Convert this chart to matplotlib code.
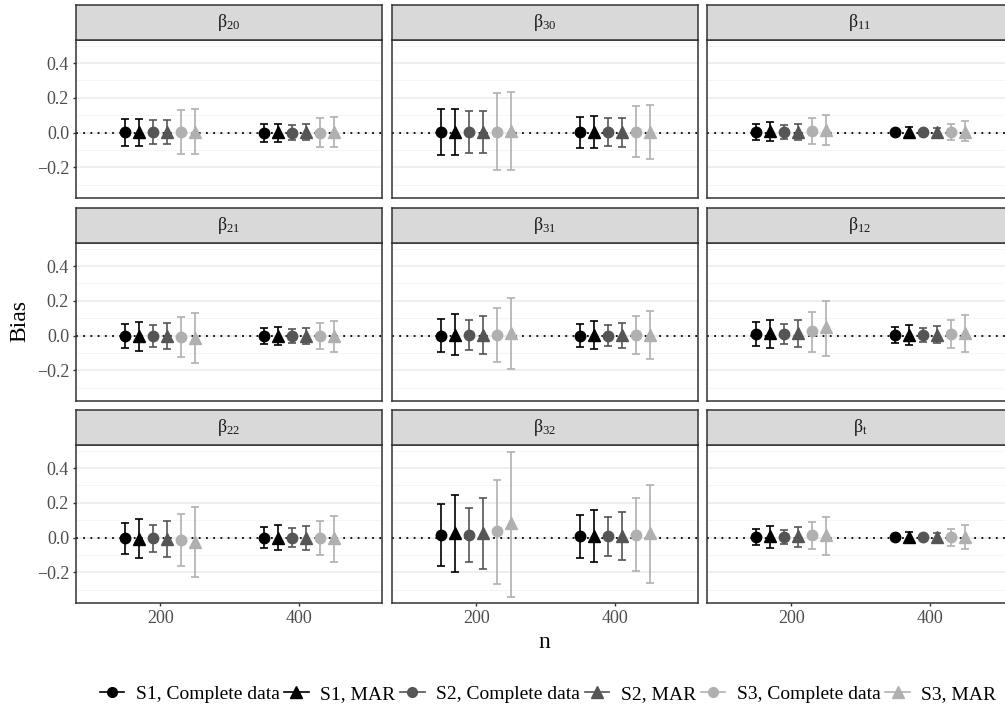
import numpy as np
import matplotlib
matplotlib.use('Agg')
import matplotlib.pyplot as plt
from matplotlib.lines import Line2D

plt.rcParams['font.family'] = ['Liberation Serif', 'DejaVu Serif']
plt.rcParams['mathtext.fontset'] = 'custom'
plt.rcParams['mathtext.rm'] = 'Liberation Serif'
plt.rcParams['mathtext.it'] = 'Liberation Serif'
plt.rcParams['mathtext.default'] = 'regular'

################## data #################
n_values = [200, 400]
series = ['S1, Complete data', 'S1, MAR', 'S2, Complete data',
          'S2, MAR', 'S3, Complete data', 'S3, MAR']
panel_labels = [r'$\beta_{20}$', r'$\beta_{30}$', r'$\beta_{11}$',
                r'$\beta_{21}$', r'$\beta_{31}$', r'$\beta_{12}$',
                r'$\beta_{22}$', r'$\beta_{32}$', r'$\beta_{t}$']

# each entry: [values at n=200, values at n=400], one value per series
b20_est = [[0.002, 0.004, 0.002, 0.004, 0.003, 0.006], [0.0, 0.001, 0.0, 0.001, 0.0, 0.002]]
b20_lo = [[-0.075, -0.075, -0.068, -0.068, -0.126, -0.126], [-0.052, -0.052, -0.044, -0.044, -0.083, -0.083]]
b20_hi = [[0.079, 0.079, 0.070, 0.072, 0.131, 0.135], [0.052, 0.052, 0.046, 0.048, 0.085, 0.087]]

b30_est = [[0.003, 0.005, 0.003, 0.005, 0.005, 0.010], [0.002, 0.002, 0.002, 0.002, 0.004, 0.005]]
b30_lo = [[-0.129, -0.128, -0.116, -0.116, -0.216, -0.216], [-0.087, -0.089, -0.077, -0.081, -0.143, -0.151]]
b30_hi = [[0.137, 0.137, 0.122, 0.126, 0.226, 0.236], [0.091, 0.093, 0.081, 0.085, 0.151, 0.160]]

b11_est = [[0.004, 0.008, 0.003, 0.006, 0.009, 0.014], [0.001, 0.002, 0.001, 0.002, 0.003, 0.006]]
b11_lo = [[-0.041, -0.046, -0.037, -0.041, -0.064, -0.073], [-0.012, -0.025, -0.012, -0.022, -0.043, -0.048]]
b11_hi = [[0.048, 0.062, 0.043, 0.052, 0.081, 0.100], [0.014, 0.030, 0.014, 0.027, 0.048, 0.064]]

b21_est = [[-0.002, -0.004, -0.003, -0.004, -0.006, -0.012], [-0.001, -0.001, -0.002, -0.001, -0.002, -0.004]]
b21_lo = [[-0.073, -0.091, -0.068, -0.079, -0.124, -0.157], [-0.046, -0.056, -0.043, -0.048, -0.077, -0.095]]
b21_hi = [[0.066, 0.077, 0.058, 0.070, 0.108, 0.128], [0.044, 0.052, 0.039, 0.046, 0.073, 0.085]]

b31_est = [[0.0, 0.006, 0.002, 0.004, 0.003, 0.012], [0.0, 0.002, 0.0, 0.001, 0.001, 0.003]]
b31_lo = [[-0.093, -0.114, -0.081, -0.104, -0.153, -0.193], [-0.064, -0.077, -0.058, -0.070, -0.108, -0.133]]
b31_hi = [[0.095, 0.126, 0.087, 0.110, 0.157, 0.214], [0.066, 0.081, 0.058, 0.071, 0.110, 0.139]]

b12_est = [[0.008, 0.014, 0.008, 0.013, 0.027, 0.050], [0.003, 0.004, 0.003, 0.004, 0.009, 0.016]]
b12_lo = [[-0.058, -0.073, -0.050, -0.064, -0.095, -0.118], [-0.043, -0.052, -0.037, -0.044, -0.070, -0.093]]
b12_hi = [[0.079, 0.091, 0.068, 0.089, 0.137, 0.197], [0.052, 0.058, 0.046, 0.054, 0.087, 0.118]]

b22_est = [[-0.004, -0.006, -0.005, -0.008, -0.012, -0.023], [-0.001, -0.001, -0.001, -0.002, -0.003, -0.005]]
b22_lo = [[-0.097, -0.116, -0.081, -0.110, -0.162, -0.228], [-0.062, -0.073, -0.054, -0.070, -0.100, -0.139]]
b22_hi = [[0.081, 0.104, 0.073, 0.093, 0.133, 0.176], [0.060, 0.073, 0.054, 0.068, 0.097, 0.126]]

b32_est = [[0.017, 0.027, 0.015, 0.025, 0.035, 0.081], [0.008, 0.010, 0.007, 0.009, 0.017, 0.027]]
b32_lo = [[-0.162, -0.197, -0.143, -0.180, -0.267, -0.344], [-0.116, -0.139, -0.104, -0.131, -0.191, -0.261]]
b32_hi = [[0.191, 0.243, 0.172, 0.228, 0.334, 0.491], [0.131, 0.158, 0.120, 0.147, 0.226, 0.302]]

bt_est = [[0.005, 0.008, 0.004, 0.007, 0.012, 0.015], [0.001, 0.002, 0.001, 0.002, 0.004, 0.006]]
bt_lo = [[-0.043, -0.058, -0.039, -0.052, -0.066, -0.100], [-0.012, -0.025, -0.012, -0.022, -0.050, -0.066]]
bt_hi = [[0.050, 0.066, 0.046, 0.060, 0.089, 0.118], [0.014, 0.030, 0.014, 0.027, 0.052, 0.075]]

panel_data = [(b20_est, b20_lo, b20_hi), (b30_est, b30_lo, b30_hi), (b11_est, b11_lo, b11_hi),
              (b21_est, b21_lo, b21_hi), (b31_est, b31_lo, b31_hi), (b12_est, b12_lo, b12_hi),
              (b22_est, b22_lo, b22_hi), (b32_est, b32_lo, b32_hi), (bt_est, bt_lo, bt_hi)]

################## style #################
colors = ['#000000', '#000000', '#555555', '#555555', '#b0b0b0', '#b0b0b0']
markers = ['o', '^', 'o', '^', 'o', '^']
msizes = [7.5, 9, 7.5, 9, 7.5, 9]
dodge = [-50, -30, -10, 10, 30, 50]

W, H = 1005, 710
fig = plt.figure(figsize=(W / 100, H / 100), dpi=100)

def add_ax(left, top, w, h):
    return fig.add_axes([left / W, 1 - (top + h) / H, w / W, h / H])

col_left = [76, 392, 707]
row_top = [40, 243, 445]
pw, ph, sh = 306, 158, 35

for k in range(9):
    r, c = divmod(k, 3)
    ax = add_ax(col_left[c], row_top[r], pw, ph)
    est, lo, hi = panel_data[k]
    for j, n in enumerate(n_values):
        for s in range(6):
            x = n + dodge[s]
            ax.errorbar(x, est[j][s],
                        yerr=[[est[j][s] - lo[j][s]], [hi[j][s] - est[j][s]]],
                        fmt=markers[s], color=colors[s], ms=msizes[s],
                        elinewidth=1.2, capsize=2.6, capthick=1.2, zorder=3)
    ax.axhline(0, color='black', ls=(0, (1, 3)), lw=1.3, zorder=2)
    ax.set_xlim(79, 519)
    ax.set_ylim(-0.377, 0.533)
    ax.set_xticks([200, 400])
    ax.set_yticks([-0.2, 0.0, 0.2, 0.4])
    ax.set_yticks([-0.3, -0.1, 0.1, 0.3, 0.5], minor=True)
    ax.yaxis.grid(True, which='major', color='#ebebeb', lw=1.1)
    ax.yaxis.grid(True, which='minor', color='#f4f4f4', lw=0.6)
    ax.set_axisbelow(True)
    ax.tick_params(which='minor', left=False)
    ax.tick_params(which='major', length=2.5, width=1.0, color='#333333',
                   labelcolor='#4d4d4d', labelsize=13, pad=2.5)
    if c == 0:
        ax.set_yticklabels(['\u22120.2', '0.0', '0.2', '0.4'])
    else:
        ax.tick_params(left=False, labelleft=False)
    if r < 2:
        ax.tick_params(bottom=False, labelbottom=False)
    for sp in ax.spines.values():
        sp.set_color('#333333')
        sp.set_linewidth(1.1)
    # facet strip
    st = add_ax(col_left[c], row_top[r] - sh, pw, sh)
    st.set_facecolor('#d9d9d9')
    st.set_xticks([])
    st.set_yticks([])
    for sp in st.spines.values():
        sp.set_color('#333333')
        sp.set_linewidth(1.1)
    st.text(0.5, 0.5, panel_labels[k], ha='center', va='center',
            fontsize=13, color='#1a1a1a', transform=st.transAxes)

fig.text(544 / W, 1 - 648 / H, 'n', ha='center', va='baseline', fontsize=17)
fig.text(20 / W, 1 - 321 / H, 'Bias', ha='center', va='center', rotation=90, fontsize=17)

handles = [Line2D([], [], color=colors[s], marker=markers[s], ms=msizes[s] - 0.5, lw=1.2)
           for s in range(6)]
fig.legend(handles, series, loc='center', bbox_to_anchor=(548 / W, 1 - 694 / H),
           ncol=6, frameon=False, fontsize=14, handlelength=1.25,
           handletextpad=0.6, columnspacing=0.25, borderpad=0.1)

fig.savefig('out.png', dpi=100)
